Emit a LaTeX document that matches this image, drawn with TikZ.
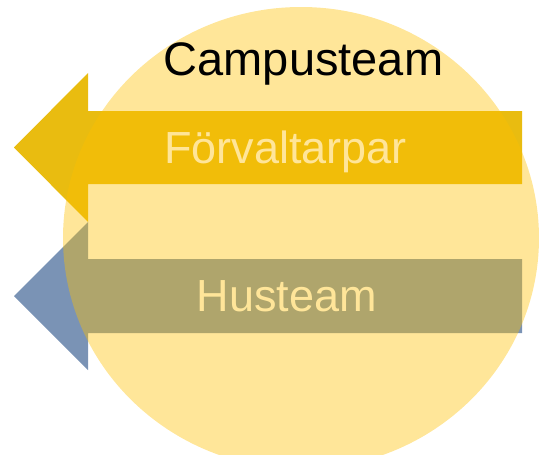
\documentclass[tikz,border=0pt]{standalone}
\usepackage{fontspec}
\setsansfont{Liberation Sans}
\definecolor{gold}{HTML}{FFC000}
\definecolor{arrowgold}{HTML}{E9BC10}
\definecolor{slate}{HTML}{7A93B5}
\begin{document}
\begin{tikzpicture}[font=\sffamily,x=1pt,y=-1pt,
lbl/.style={font=\sffamily\fontsize{45}{54}\selectfont,anchor=base,inner sep=0pt}]
\useasboundingbox (0,0) rectangle (539,455);
\clip (0,0) rectangle (539,455);
% arrows, under the circle
\fill[arrowgold] (522,111) -- (88,111) -- (88,73) -- (14,147.5) -- (88,222) -- (88,184) -- (522,184) -- cycle;
\fill[slate] (522,259) -- (88,259) -- (88,222) -- (14,296) -- (88,370) -- (88,333) -- (522,333) -- cycle;
\node[lbl,text=white] (forv) at (285.5,163){Förvaltarpar};
\node[lbl,text=white] (hus) at (287,311){Husteam};
% campus circle
\fill[gold,fill opacity=.4] (301,238) ellipse [x radius=238,y radius=231];
\node[lbl,font=\sffamily\fontsize{47}{56}\selectfont] (campus) at (303.5,75){Campusteam};
\end{tikzpicture}
\end{document}
